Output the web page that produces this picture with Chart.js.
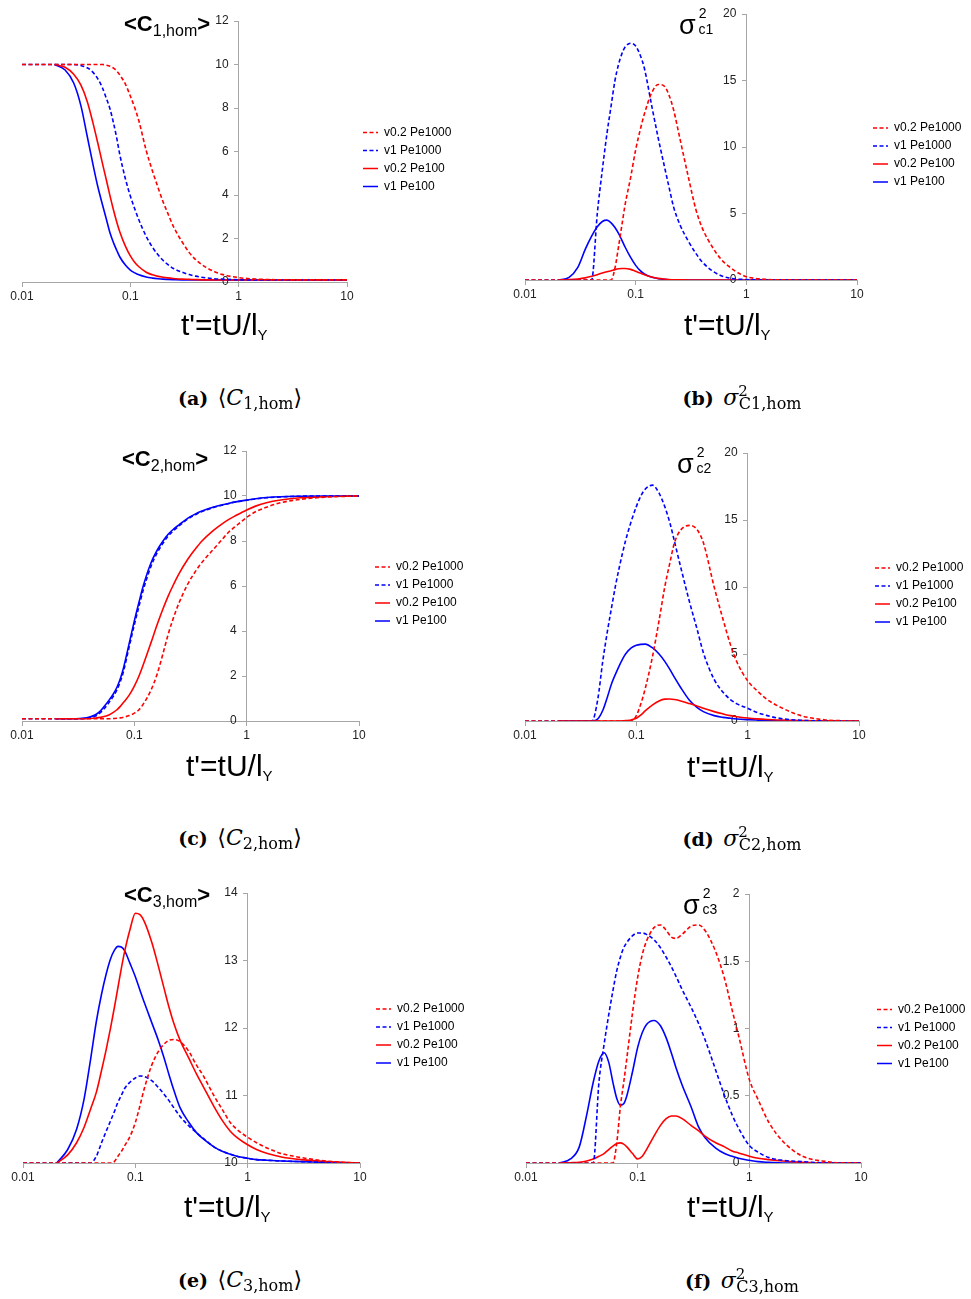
<!DOCTYPE html>
<html>
<head>
<meta charset="utf-8">
<script src="https://cdn.jsdelivr.net/npm/chart.js@4.4.1/dist/chart.umd.min.js"></script>
<style>
  body { margin: 0; background: #fff; }
  #fig { position: relative; width: 971px; height: 1299px; overflow: hidden; background: #fff; }
  #fig canvas { position: absolute; }
  .lbl { position: absolute; white-space: nowrap; line-height: 1; color: #000; font-family: 'Liberation Sans', Arial, sans-serif; }
  .ptitle { font-size: 22px; }
  .ptitle .sb { font-size: 16px; position: relative; top: 5px; }
  .sig { font-size: 27px; }
  .sig .sup { font-size: 14px; position: relative; top: -16px; margin-left: 3px; }
  .sig .sub { font-size: 14px; position: relative; margin-left: -8px; }
  .xt { font-size: 30px; }
  .xt .sb { font-size: 15px; position: relative; top: 5px; }
  .cap { position: absolute; width: 300px; text-align: center; white-space: nowrap; line-height: 1; color: #000; font-family: 'DejaVu Serif', 'Liberation Serif', serif; font-size: 19px; }
  .cap .m { font-size: 22px; }
  .cap .sb { font-size: 16px; position: relative; top: 4px; }
  .cap .sp { font-size: 15px; position: relative; top: -9px; }
</style>
</head>
<body>
<div id="fig">
  <canvas id="pa"></canvas>
  <canvas id="pb"></canvas>
  <canvas id="pc"></canvas>
  <canvas id="pd"></canvas>
  <canvas id="pe"></canvas>
  <canvas id="pf"></canvas>

  <div class="lbl ptitle" style="left:124px;top:13px"><b>&lt;C</b><span class="sb">1,hom</span><b>&gt;</b></div>
  <div class="lbl ptitle" style="left:122px;top:448px"><b>&lt;C</b><span class="sb">2,hom</span><b>&gt;</b></div>
  <div class="lbl ptitle" style="left:124px;top:884px"><b>&lt;C</b><span class="sb">3,hom</span><b>&gt;</b></div>

  <div class="lbl sig" style="left:679px;top:12px">σ<span class="sup">2</span><span class="sub">c1</span></div>
  <div class="lbl sig" style="left:677px;top:451px">σ<span class="sup">2</span><span class="sub">c2</span></div>
  <div class="lbl sig" style="left:683px;top:892px">σ<span class="sup">2</span><span class="sub">c3</span></div>

  <div class="lbl xt" style="left:181px;top:310px">t'=tU/l<span class="sb">Y</span></div>
  <div class="lbl xt" style="left:684px;top:310px">t'=tU/l<span class="sb">Y</span></div>
  <div class="lbl xt" style="left:186px;top:751px">t'=tU/l<span class="sb">Y</span></div>
  <div class="lbl xt" style="left:687px;top:752px">t'=tU/l<span class="sb">Y</span></div>
  <div class="lbl xt" style="left:184px;top:1192px">t'=tU/l<span class="sb">Y</span></div>
  <div class="lbl xt" style="left:687px;top:1192px">t'=tU/l<span class="sb">Y</span></div>

  <div class="cap" style="left:90px;top:387px"><b>(a)</b>&ensp;<span class="m">⟨<i>C</i><span class="sb">1,hom</span>⟩</span></div>
  <div class="cap" style="left:592px;top:387px"><b>(b)</b>&ensp;<span class="m"><i>σ</i><span class="sp">2</span><span class="sb" style="margin-left:-9px">C1,hom</span></span></div>
  <div class="cap" style="left:90px;top:827px"><b>(c)</b>&ensp;<span class="m">⟨<i>C</i><span class="sb">2,hom</span>⟩</span></div>
  <div class="cap" style="left:592px;top:828px"><b>(d)</b>&ensp;<span class="m"><i>σ</i><span class="sp">2</span><span class="sb" style="margin-left:-9px">C2,hom</span></span></div>
  <div class="cap" style="left:90px;top:1269px"><b>(e)</b>&ensp;<span class="m">⟨<i>C</i><span class="sb">3,hom</span>⟩</span></div>
  <div class="cap" style="left:592px;top:1270px"><b>(f)</b>&ensp;<span class="m"><i>σ</i><span class="sp">2</span><span class="sb" style="margin-left:-9px">C3,hom</span></span></div>
</div>

<script>
// shared time grid t' (40 points)
const T = [0.01, 0.015, 0.02, 0.025, 0.03, 0.035, 0.04, 0.045, 0.05, 0.055,
  0.06, 0.065, 0.07, 0.075, 0.08, 0.09, 0.1, 0.11, 0.12, 0.14,
  0.16, 0.18, 0.2, 0.22, 0.25, 0.3, 0.35, 0.4, 0.5, 0.6,
  0.7, 0.8, 1, 1.2, 1.5, 2, 3, 5, 7, 10];

const SERIES_LABELS = ['v0.2 Pe1000', 'v1 Pe1000', 'v0.2 Pe100', 'v1 Pe100'];
const SERIES_COLORS = ['#ff0000', '#0000ff', '#ff0000', '#0000ff'];
const SERIES_DASHED = [true, true, false, false];
const X_TICKS = [0.01, 0.1, 1, 10];
const X_TICK_LABELS = ['0.01', '0.1', '1', '10'];

// (a) <C1,hom>
const aRedDash = [10, 10, 10, 10, 10, 10, 10, 10, 10, 10,
  9.97, 9.92, 9.83, 9.7, 9.52, 9.1, 8.55, 8.0, 7.4, 6.05,
  5.1, 4.35, 3.7, 3.2, 2.55, 1.85, 1.35, 1.03, 0.67, 0.47,
  0.35, 0.28, 0.2, 0.16, 0.13, 0.11, 0.1, 0.1, 0.1, 0.1];
const aBlueDash = [10, 10, 10, 10, 10, 9.95, 9.85, 9.65, 9.35, 8.95,
  8.45, 7.95, 7.3, 6.6, 5.85, 4.75, 3.95, 3.35, 2.85, 2.1,
  1.6, 1.25, 1.0, 0.82, 0.62, 0.45, 0.34, 0.27, 0.19, 0.15,
  0.13, 0.12, 0.1, 0.1, 0.1, 0.1, 0.1, 0.1, 0.1, 0.1];
const aRedLine = [null, null, 10, 9.87, 9.55, 9.05, 8.3, 7.35, 6.4, 5.5,
  4.7, 3.95, 3.3, 2.75, 2.3, 1.65, 1.2, 0.9, 0.7, 0.45,
  0.33, 0.26, 0.22, 0.19, 0.16, 0.13, 0.12, 0.11, 0.1, 0.1,
  0.1, 0.1, 0.1, 0.1, 0.1, 0.1, 0.1, 0.1, 0.1, 0.1];
const aBlueLine = [null, null, 10, 9.75, 9.15, 8.1, 6.7, 5.45, 4.4, 3.6,
  2.9, 2.25, 1.8, 1.45, 1.15, 0.78, 0.55, 0.42, 0.33, 0.23,
  0.18, 0.15, 0.13, 0.12, 0.11, 0.1, 0.1, 0.1, 0.1, 0.1,
  0.1, 0.1, 0.1, 0.1, 0.1, 0.1, 0.1, 0.1, 0.1, 0.1];

// (b) sigma^2 C1
const bRedDash = [0, 0, 0, 0, 0, 0, 0, 0, 0, 0,
  0, 0.9, 2.5, 4.1, 5.6, 7.7, 9.8, 11.3, 12.5, 14.1,
  14.7, 14.6, 13.9, 12.8, 10.7, 7.7, 5.3, 3.9, 2.4, 1.5,
  1.0, 0.65, 0.25, 0.12, 0.05, 0.01, 0, 0, 0, 0];
const bBlueDash = [0, 0, 0, 0, 0, 0, 0, 5.0, 8.3, 11.0,
  13.1, 15.0, 16.2, 17.0, 17.5, 17.8, 17.6, 16.9, 15.9, 13.05,
  10.66, 8.7, 7.0, 5.5, 4.2, 2.9, 2.0, 1.35, 0.65, 0.3,
  0.15, 0.08, 0.03, 0.01, 0, 0, 0, 0, 0, 0];
const bRedLine = [null, null, 0, 0.03, 0.08, 0.16, 0.28, 0.4, 0.52, 0.62,
  0.7, 0.78, 0.84, 0.87, 0.87, 0.8, 0.65, 0.52, 0.4, 0.22,
  0.12, 0.07, 0.04, 0.02, 0.01, 0, 0, 0, 0, 0,
  0, 0, 0, 0, 0, 0, 0, 0, 0, 0];
const bBlueLine = [null, null, 0, 0.2, 0.95, 2.3, 3.3, 4.0, 4.4, 4.5,
  4.3, 3.95, 3.5, 3.0, 2.5, 1.7, 1.1, 0.7, 0.45, 0.2,
  0.1, 0.05, 0.02, 0.01, 0, 0, 0, 0, 0, 0,
  0, 0, 0, 0, 0, 0, 0, 0, 0, 0];

// (c) <C2,hom>
const cRedDash = [0.1, 0.1, 0.1, 0.1, 0.1, 0.1, 0.1, 0.1, 0.1, 0.1,
  0.1, 0.11, 0.12, 0.14, 0.17, 0.24, 0.35, 0.5, 0.75, 1.35,
  2.1, 3.0, 3.85, 4.5, 5.25, 6.1, 6.65, 7.05, 7.6, 8.05,
  8.42, 8.66, 9.05, 9.3, 9.5, 9.7, 9.85, 9.95, 9.98, 10];
const cBlueDash = [0.1, 0.1, 0.1, 0.1, 0.1, 0.11, 0.15, 0.22, 0.38, 0.6,
  0.85, 1.1, 1.38, 1.75, 2.2, 3.3, 4.28, 5.1, 5.82, 6.85,
  7.48, 7.9, 8.22, 8.43, 8.67, 8.98, 9.17, 9.31, 9.48, 9.59,
  9.67, 9.73, 9.81, 9.87, 9.92, 9.96, 9.99, 10, 10, 10];
const cRedLine = [null, null, 0.1, 0.1, 0.1, 0.1, 0.11, 0.13, 0.16, 0.21,
  0.28, 0.38, 0.5, 0.65, 0.82, 1.15, 1.55, 2.0, 2.5, 3.45,
  4.3, 4.99, 5.55, 6.0, 6.55, 7.2, 7.65, 8.0, 8.45, 8.75,
  8.97, 9.13, 9.38, 9.55, 9.7, 9.82, 9.92, 9.97, 9.99, 10];
const cBlueLine = [null, null, 0.1, 0.1, 0.1, 0.12, 0.18, 0.28, 0.45, 0.7,
  0.95, 1.2, 1.5, 1.88, 2.35, 3.45, 4.45, 5.28, 6.0, 7.0,
  7.6, 8.0, 8.3, 8.5, 8.72, 9.02, 9.2, 9.33, 9.5, 9.6,
  9.68, 9.74, 9.82, 9.88, 9.93, 9.97, 9.99, 10, 10, 10];

// (d) sigma^2 C2
const dRedDash = [0, 0, 0, 0, 0, 0, 0, 0, 0, 0,
  0, 0, 0, 0, 0, 0, 0.4, 1.3, 2.4, 4.85,
  7.5, 10.0, 11.8, 13.3, 14.25, 14.6, 14.3, 13.3, 10.0, 7.6,
  5.7, 4.4, 3.0, 2.3, 1.6, 1.0, 0.4, 0.08, 0.02, 0];
const dBlueDash = [0, 0, 0, 0, 0, 0, 0, 1.6, 4.5, 6.7,
  8.5, 10.1, 11.4, 12.5, 13.45, 14.9, 16.0, 16.8, 17.3, 17.6,
  17.0, 16.0, 14.8, 13.4, 11.5, 8.9, 6.9, 5.1, 3.1, 2.15,
  1.6, 1.28, 0.95, 0.65, 0.4, 0.18, 0.05, 0.01, 0, 0];
const dRedLine = [null, null, 0, 0, 0, 0, 0, 0, 0, 0,
  0, 0, 0, 0.01, 0.03, 0.08, 0.2, 0.45, 0.75, 1.2,
  1.5, 1.63, 1.64, 1.6, 1.5, 1.3, 1.12, 0.95, 0.7, 0.53,
  0.4, 0.32, 0.22, 0.16, 0.11, 0.07, 0.03, 0.01, 0, 0];
const dBlueLine = [null, null, 0, 0, 0, 0, 0, 0.15, 0.8, 1.8,
  2.8, 3.5, 4.1, 4.6, 5.0, 5.45, 5.65, 5.72, 5.74, 5.45,
  5.0, 4.45, 3.85, 3.25, 2.5, 1.55, 1.02, 0.7, 0.4, 0.27,
  0.2, 0.15, 0.1, 0.07, 0.04, 0.02, 0.01, 0, 0, 0];

// (e) <C3,hom>
const eRedDash = [10, 10, 10, 10, 10, 10, 10, 10, 10, 10,
  10, 10.02, 10.1, 10.17, 10.25, 10.4, 10.6, 10.85, 11.1, 11.45,
  11.65, 11.76, 11.82, 11.83, 11.8, 11.65, 11.45, 11.3, 11.0, 10.78,
  10.6, 10.5, 10.38, 10.3, 10.22, 10.14, 10.08, 10.03, 10.01, 10];
const eBlueDash = [10, 10, 10, 10, 10, 10, 10, 10.1, 10.3, 10.47,
  10.62, 10.76, 10.9, 11.0, 11.1, 11.2, 11.26, 11.29, 11.28, 11.22,
  11.12, 11.02, 10.92, 10.82, 10.69, 10.55, 10.45, 10.37, 10.24, 10.17,
  10.13, 10.1, 10.07, 10.05, 10.04, 10.03, 10.02, 10.01, 10, 10];
const eRedLine = [null, null, 10, 10.12, 10.3, 10.53, 10.8, 11.05, 11.37, 11.68,
  11.99, 12.3, 12.6, 12.88, 13.12, 13.47, 13.7, 13.68, 13.58, 13.27,
  12.92, 12.59, 12.3, 12.07, 11.82, 11.55, 11.32, 11.14, 10.84, 10.62,
  10.47, 10.38, 10.27, 10.2, 10.14, 10.09, 10.05, 10.02, 10.01, 10];
const eBlueLine = [null, null, 10, 10.2, 10.5, 10.95, 11.54, 12.1, 12.5, 12.8,
  13.02, 13.15, 13.21, 13.2, 13.15, 12.95, 12.76, 12.56, 12.38, 12.08,
  11.82, 11.56, 11.3, 11.08, 10.82, 10.6, 10.45, 10.36, 10.24, 10.17,
  10.13, 10.1, 10.07, 10.05, 10.04, 10.03, 10.02, 10.01, 10, 10];

// (f) sigma^2 C3
const fRedDash = [0, 0, 0, 0, 0, 0, 0, 0, 0, 0,
  0, 0.15, 0.42, 0.6, 0.78, 1.12, 1.38, 1.55, 1.65, 1.75,
  1.77, 1.73, 1.68, 1.67, 1.7, 1.76, 1.77, 1.73, 1.57, 1.37,
  1.14, 0.95, 0.62, 0.47, 0.3, 0.16, 0.05, 0.01, 0, 0];
const fBlueDash = [0, 0, 0, 0, 0, 0, 0, 0.6, 0.88, 1.1,
  1.28, 1.43, 1.53, 1.6, 1.64, 1.69, 1.71, 1.71, 1.7, 1.66,
  1.6, 1.53, 1.46, 1.39, 1.29, 1.16, 1.04, 0.92, 0.69, 0.5,
  0.36, 0.26, 0.13, 0.08, 0.04, 0.02, 0.01, 0, 0, 0];
const fRedLine = [null, null, 0, 0.002, 0.005, 0.015, 0.03, 0.05, 0.07, 0.1,
  0.125, 0.145, 0.15, 0.14, 0.12, 0.07, 0.03, 0.05, 0.1, 0.2,
  0.28, 0.33, 0.35, 0.35, 0.33, 0.28, 0.24, 0.2, 0.15, 0.12,
  0.09, 0.075, 0.05, 0.035, 0.025, 0.015, 0.005, 0, 0, 0];
const fBlueLine = [null, null, 0, 0.03, 0.12, 0.36, 0.6, 0.76, 0.82, 0.75,
  0.6, 0.48, 0.43, 0.44, 0.5, 0.68, 0.86, 0.97, 1.03, 1.06,
  1.02, 0.93, 0.82, 0.71, 0.58, 0.42, 0.27, 0.19, 0.11, 0.07,
  0.05, 0.035, 0.02, 0.01, 0.005, 0, 0, 0, 0, 0];

const AXIS_GRAY = '#a6a6a6';
Chart.defaults.font.family = "'Liberation Sans', Arial, sans-serif";
Chart.defaults.color = '#222';

function toPoints(ys) {
  return T.map((t, i) => ({ x: t, y: ys[i] })).filter((p) => p.y !== null);
}

// area = where the plot box must land on the page
function makePanel(id, area, yMin, yMax, yStep, ySets) {
  const canvas = document.getElementById(id);
  const padLeft = 24;
  const padTop = 12;
  const xAxisH = 30;
  const left = area.left - padLeft;
  const top = area.top - padTop;
  const width = area.right - left + 130;
  const height = area.bottom - top + xAxisH;
  canvas.style.left = left + 'px';
  canvas.style.top = top + 'px';
  canvas.width = width;
  canvas.height = height;

  const chart = new Chart(canvas, {
    type: 'line',
    data: {
      datasets: ySets.map((ys, i) => ({
        label: SERIES_LABELS[i],
        data: toPoints(ys),
        yAxisID: 'y',
        borderColor: SERIES_COLORS[i],
        backgroundColor: SERIES_COLORS[i],
        borderWidth: 1.6,
        // 4 + 2.5 repeats so the 15px legend sample shows three dashes
        borderDash: SERIES_DASHED[i] ? [4, 2.5] : [],
        pointRadius: 0,
        cubicInterpolationMode: 'monotone',
        fill: false
      }))
    },
    options: {
      responsive: false,
      maintainAspectRatio: false,
      animation: false,
      devicePixelRatio: 1,
      layout: { padding: { left: padLeft, top: padTop, right: 0, bottom: 0 } },
      plugins: {
        legend: {
          position: 'right',
          fullSize: false,
          align: 'center',
          maxWidth: 200,
          title: { display: true, text: '', padding: 0, font: { size: 16, lineHeight: 1 } },
          labels: {
            // flat box = a line sample that keeps the dataset's dash
            boxWidth: 15,
            boxHeight: 0,
            padding: 6,
            color: '#000',
            font: { size: 12 }
          }
        },
        tooltip: { enabled: false }
      },
      scales: {
        x: {
          type: 'logarithmic',
          position: 'bottom',
          min: 0.01,
          max: 10,
          afterBuildTicks: (s) => { s.ticks = X_TICKS.map((v) => ({ value: v })); },
          afterFit: (s) => { s.height = xAxisH; },
          grid: { display: true, drawOnChartArea: false, drawTicks: true, tickLength: 5, color: AXIS_GRAY },
          border: { display: true, color: AXIS_GRAY },
          ticks: {
            autoSkip: false, maxRotation: 0, padding: 2, color: '#222', font: { size: 12 },
            callback: (v, i) => X_TICK_LABELS[i]
          }
        },
        y: {
          type: 'linear',
          position: { x: 1 },
          min: yMin,
          max: yMax,
          grid: { display: true, drawOnChartArea: false, drawTicks: true, tickLength: 4, color: AXIS_GRAY },
          border: { display: true, color: AXIS_GRAY },
          // labels sit right-aligned on the axis line; trailing spaces keep them clear of the tick marks
          ticks: { stepSize: yStep, color: '#222', font: { size: 12 }, callback: (v) => String(v) + '   ' }
        },
        // empty strip between the plot and the legend
        gap: {
          type: 'linear',
          position: 'right',
          display: true,
          grid: { display: false, drawTicks: false },
          border: { display: false },
          ticks: { display: false },
          afterFit: (s) => { s.width = 10; }
        }
      }
    }
  });

  // legend width is only known after layout: trim the canvas so the plot ends at area.right
  const shift = area.right - left - chart.chartArea.right;
  if (shift !== 0) {
    chart.resize(width + shift, height);
  }
  return chart;
}

makePanel('pa', { left: 22, right: 347, top: 21, bottom: 282 }, 0, 12, 2,
  [aRedDash, aBlueDash, aRedLine, aBlueLine]);
makePanel('pb', { left: 525, right: 857, top: 14, bottom: 280 }, 0, 20, 5,
  [bRedDash, bBlueDash, bRedLine, bBlueLine]);
makePanel('pc', { left: 22, right: 359, top: 451, bottom: 721 }, 0, 12, 2,
  [cRedDash, cBlueDash, cRedLine, cBlueLine]);
makePanel('pd', { left: 525, right: 859, top: 453, bottom: 721 }, 0, 20, 5,
  [dRedDash, dBlueDash, dRedLine, dBlueLine]);
makePanel('pe', { left: 23, right: 360, top: 893, bottom: 1163 }, 10, 14, 1,
  [eRedDash, eBlueDash, eRedLine, eBlueLine]);
makePanel('pf', { left: 526, right: 861, top: 894, bottom: 1163 }, 0, 2, 0.5,
  [fRedDash, fBlueDash, fRedLine, fBlueLine]);
</script>
</body>
</html>
